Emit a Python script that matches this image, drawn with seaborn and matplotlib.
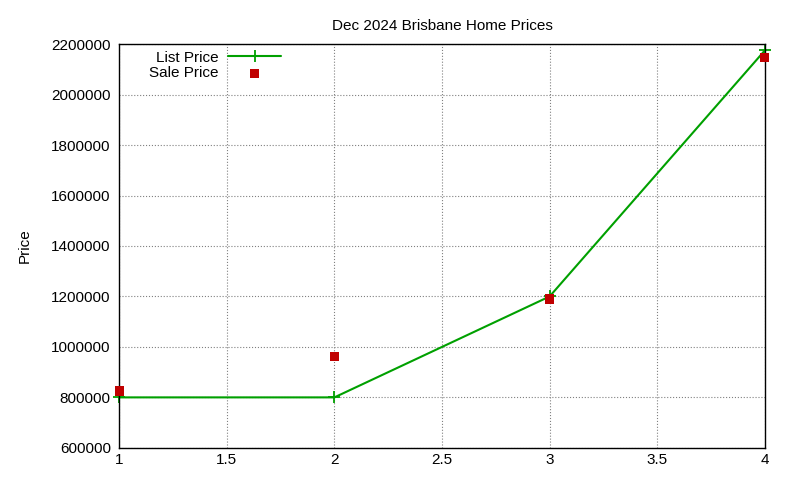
import matplotlib
matplotlib.use("Agg")
import matplotlib.pyplot as plt
import seaborn as sns

# Brisbane Dec 2024 prices by bedroom count
bedrooms = [1, 2, 3, 4]
list_price = [800000, 800000, 1200000, 2175000]
sale_price = [825000, 962000, 1190000, 2148000]

sns.set_theme(style="white")
plt.rcParams['font.family'] = ['Liberation Sans', 'DejaVu Sans']
plt.rcParams['text.color'] = 'black'
plt.rcParams['axes.labelcolor'] = 'black'

fig = plt.figure(figsize=(8, 4.8), dpi=100)
ax = fig.add_axes([0.149, 0.067, 0.807, 0.841])

sns.lineplot(x=bedrooms, y=list_price, ax=ax, color='#00a000', linewidth=1.5,
             marker='+', markersize=9, markeredgewidth=1.3,
             markeredgecolor='#00a000', label='List Price', clip_on=False)
sns.scatterplot(x=bedrooms, y=sale_price, ax=ax, color='#c00000', marker='s',
                s=45, edgecolor='none', label='Sale Price', zorder=5, clip_on=False)

ax.set_xlim(1, 4)
ax.set_ylim(600000, 2200000)
ax.set_xticks([1, 1.5, 2, 2.5, 3, 3.5, 4])
ax.set_xticklabels(['1', '1.5', '2', '2.5', '3', '3.5', '4'])
ax.set_yticks(range(600000, 2200001, 200000))
ax.set_yticklabels([str(v) for v in range(600000, 2200001, 200000)])
ax.tick_params(labelsize=11, direction='in', length=5, colors='black')
ax.tick_params(axis='y', pad=6)
ax.grid(True, linestyle=':', color='#808080', linewidth=0.8)
for s in ax.spines.values():
    s.set_color('black')
    s.set_linewidth(1)

ax.set_title('Dec 2024 Brisbane Home Prices', fontsize=11, pad=10, color='black')
ax.set_ylabel('Price', fontsize=11, labelpad=14)
ax.set_xlabel('')

leg = ax.legend(loc='upper left', bbox_to_anchor=(0.03, 1.01), frameon=False,
                fontsize=11, markerfirst=False, handlelength=3.5,
                borderaxespad=0.3, labelspacing=0.1, handletextpad=0.6)
leg._legend_box.align = 'right'

fig.savefig('out.png', dpi=100)
